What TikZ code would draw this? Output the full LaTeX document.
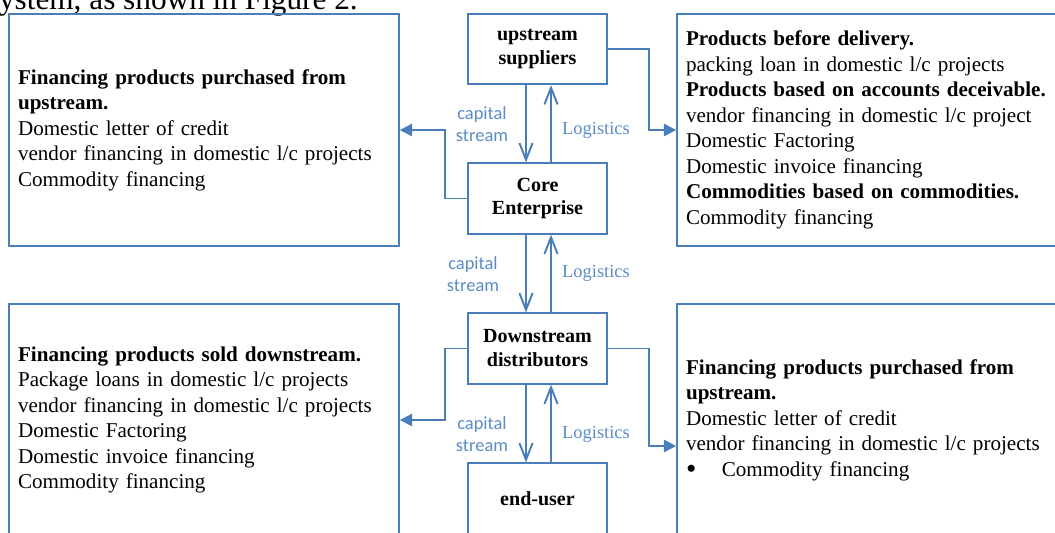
\documentclass[tikz,border=0pt]{standalone}
\usepackage{fontspec}
\setmainfont{Liberation Serif}
\newfontfamily\labelfont{Carlito}
\usetikzlibrary{arrows.meta,positioning}
\definecolor{chainblue}{HTML}{4A7EBB}
\definecolor{labelblue}{HTML}{5B8CC4}

\begin{document}
\begin{tikzpicture}[x=0.02cm, y=-0.02cm,
  party/.style={draw=chainblue, line width=1pt, minimum width=2.78cm, minimum height=1.41cm,
    inner sep=0pt, align=center, font=\fontsize{11.4}{13.6}\selectfont\bfseries},
  product/.style={draw=chainblue, line width=1pt, text width=7.44cm, inner xsep=0.18cm,
    minimum height=4.64cm, align=left, font=\fontsize{12}{14.5}\selectfont},
  flow/.style={draw=chainblue, line width=1.1pt, -{Straight Barb[length=9.5pt,width=7.5pt]}},
  feed/.style={draw=chainblue, line width=1.1pt, -{Triangle[length=7pt,width=7pt]}},
  capnote/.style={text=labelblue, font=\labelfont\fontsize{10.5}{12.5}\selectfont, align=center},
  lognote/.style={text=labelblue, font=\fontsize{10.5}{12}\selectfont}]
\clip (0,0) rectangle (1055,532);

% text of the page above the figure
\node[anchor=base east, font=\fontsize{17.8}{20}\selectfont] (lead) at (364,9) {system, as shown in Figure 2.};

% chain
\node[party] (up) at (537.5,49) {upstream\\suppliers};
\node[party] (core) at (537.5,198.5) {Core\\Enterprise};
\node[party] (down) at (537.5,348.5) {Downstream\\distributors};
\node[party] (user) at (537.5,498.5) {end-user};

% products
\node[product] (lt) at (204,130) {\textbf{Financing products purchased from}\\\textbf{upstream.}\\
  Domestic letter of credit\\vendor financing in domestic l/c projects\\Commodity financing};
\node[product] (rt) at (872,130) {\textbf{Products before delivery.}\\packing loan in domestic l/c projects\\
  \textbf{Products based on accounts deceivable.}\\vendor financing in domestic l/c project\\
  Domestic Factoring\\Domestic invoice financing\\\textbf{Commodities based on commodities.}\\Commodity financing};
\node[product] (lb) at (204,420) {\textbf{Financing products sold downstream.}\\Package loans in domestic l/c projects\\
  vendor financing in domestic l/c projects\\Domestic Factoring\\Domestic invoice financing\\Commodity financing};
\node[product] (rb) at (872,420) {\textbf{Financing products purchased from}\\\textbf{upstream.}\\
  Domestic letter of credit\\vendor financing in domestic l/c projects\\
  \makebox[20.4pt][l]{\raisebox{-1.4pt}{\scalebox{1.4}{\textbullet}}}Commodity financing};

% capital down, logistics up
\foreach \a/\b in {up/core, core/down, down/user} {
  \draw[flow] ([xshift=-0.23cm]\a.south) -- ([xshift=-0.23cm]\b.north);
  \draw[flow] ([xshift=0.27cm]\b.north) -- ([xshift=0.27cm]\a.south);
}
\node[capnote] (capA) at (482,124) {capital\\stream};
\node[capnote] (capB) at (473,274) {capital\\stream};
\node[capnote] (capC) at (482,434) {capital\\stream};
\node[lognote] (logA) at (596,130) {Logistics};
\node[lognote] (logB) at (596,273) {Logistics};
\node[lognote] (logC) at (596,434) {Logistics};

\draw[feed] (up.east) -- ++(41,0) |- (rt.west);
\draw[feed] (core.west) -- ++(-22,0) |- (lt.east);
\draw[feed] (down.west) -- ++(-22,0) |- (lb.east);
\draw[feed] (down.east) -- ++(41,0) |- ([yshift=-0.52cm]rb.west);
\end{tikzpicture}
\end{document}
